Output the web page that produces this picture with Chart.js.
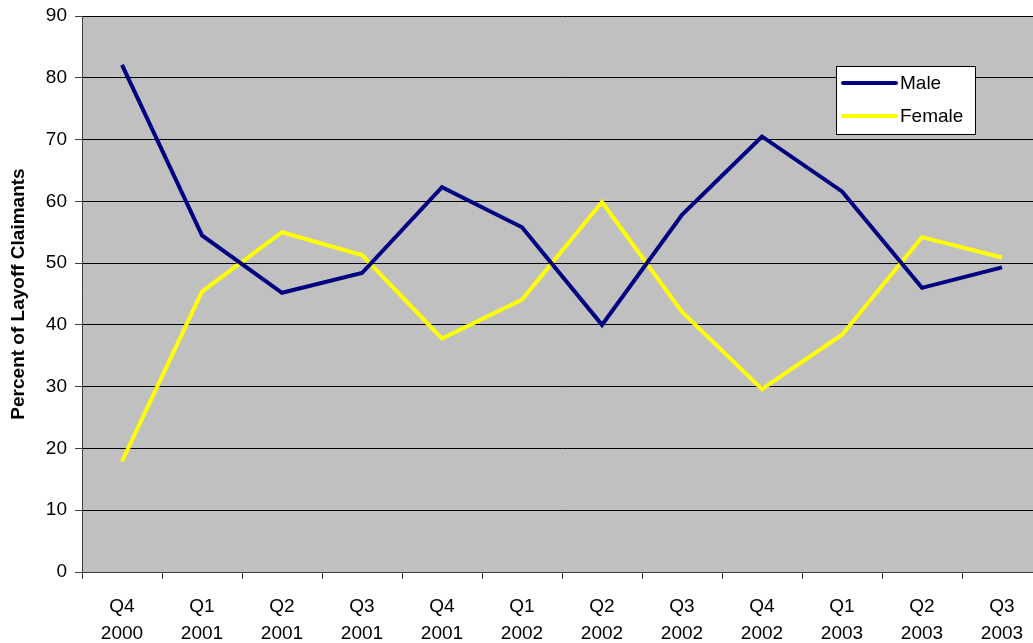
<!DOCTYPE html>
<html>
<head>
<meta charset="utf-8">
<script src="https://cdn.jsdelivr.net/npm/chart.js@4/dist/chart.umd.min.js"></script>
<style>
  html, body { margin: 0; padding: 0; background: #fff; overflow: hidden; }
  #wrap { width: 1042px; height: 643px; }
</style>
</head>
<body>
<div id="wrap"><canvas id="layoffChart"></canvas></div>
<script>
// quarters (two-line labels)
const quarters = [
    ['Q4', '2000'], ['Q1', '2001'], ['Q2', '2001'], ['Q3', '2001'],
    ['Q4', '2001'], ['Q1', '2002'], ['Q2', '2002'], ['Q3', '2002'],
    ['Q4', '2002'], ['Q1', '2003'], ['Q2', '2003'], ['Q3', '2003']
];
const maleValues = [82.1, 54.5, 45.2, 48.4, 62.3, 55.8, 40.0, 57.8, 70.5, 61.6, 46.0, 49.3];
const femaleValues = [17.9, 45.4, 55.0, 51.3, 37.8, 44.1, 59.9, 42.1, 29.6, 38.4, 54.2, 50.9];
const yTicks = [0, 10, 20, 30, 40, 50, 60, 70, 80, 90];

const FONT = 'Arial, "Liberation Sans", sans-serif';

// gray plot background
const plotBgPlugin = {
    id: 'plotBgPlugin',
    beforeDraw: (chart) => {
        const ctx = chart.ctx;
        const { left, top, width, height } = chart.chartArea;
        ctx.save();
        ctx.fillStyle = '#C0C0C0';
        ctx.fillRect(left, top, width, height);
        ctx.restore();
    }
};

// boxed legend inside the plot, top right
const boxLegendPlugin = {
    id: 'boxLegendPlugin',
    afterDraw: (chart) => {
        const ctx = chart.ctx;
        const bx = 836, by = 66, bw = 139, bh = 68;
        ctx.save();
        ctx.fillStyle = '#ffffff';
        ctx.fillRect(bx, by, bw, bh);
        ctx.strokeStyle = '#000000';
        ctx.lineWidth = 1;
        ctx.strokeRect(bx + 0.5, by + 0.5, bw, bh);
        ctx.font = '19px ' + FONT;
        ctx.textAlign = 'left';
        ctx.textBaseline = 'middle';
        chart.data.datasets.forEach((ds, i) => {
            const y = by + 17 + i * 33;
            ctx.strokeStyle = ds.borderColor;
            ctx.lineWidth = 4;
            ctx.lineCap = 'round';
            ctx.beginPath();
            ctx.moveTo(bx + 7, y);
            ctx.lineTo(bx + 60, y);
            ctx.stroke();
            ctx.fillStyle = '#000000';
            ctx.fillText(ds.label, bx + 64, y + 1);
        });
        ctx.restore();
    }
};

const ctx = document.getElementById('layoffChart').getContext('2d');
const layoffChart = new Chart(ctx, {
    type: 'line',
    data: {
        labels: quarters,
        datasets: [{
            label: 'Male',
            data: maleValues,
            borderColor: '#000080',
            borderWidth: 4,
            pointRadius: 0,
            tension: 0,
            fill: false
        },
        {
            label: 'Female',
            data: femaleValues,
            borderColor: '#FFFF00',
            borderWidth: 4,
            pointRadius: 0,
            tension: 0,
            fill: false
        }]
    },
    options: {
        responsive: true,
        maintainAspectRatio: false,
        animation: false,
        layout: {
            padding: { top: 16, right: 0, bottom: 0, left: 0 }
        },
        scales: {
            x: {
                offset: true,
                afterFit: (scale) => { scale.height = 71; },
                grid: {
                    offset: true,
                    drawOnChartArea: false,
                    drawTicks: true,
                    tickLength: 7,
                    color: '#404040'
                },
                border: { color: '#404040', width: 1 },
                ticks: {
                    color: '#000000',
                    font: { family: FONT, size: 19, lineHeight: 1.42 },
                    padding: 14,
                    maxRotation: 0,
                    autoSkip: false
                }
            },
            y: {
                min: 0,
                max: 90,
                afterFit: (scale) => {
                    scale.width = 82;
                    scale.paddingTop = 0;
                    scale.paddingBottom = 0;
                },
                afterBuildTicks: (scale) => {
                    scale.ticks = yTicks.map(v => ({ value: v }));
                },
                title: {
                    display: true,
                    text: 'Percent of Layoff Claimants',
                    color: '#000000',
                    font: { family: FONT, size: 19, weight: 'bold' },
                    padding: { top: 7, bottom: 4 }
                },
                grid: {
                    color: '#000000',
                    lineWidth: 1,
                    tickLength: 7,
                    tickColor: '#404040'
                },
                border: { color: '#404040', width: 1 },
                ticks: {
                    color: '#000000',
                    font: { family: FONT, size: 19 },
                    padding: 8
                }
            }
        },
        plugins: {
            legend: { display: false },
            tooltip: { enabled: false }
        }
    },
    plugins: [plotBgPlugin, boxLegendPlugin]
});
</script>
</body>
</html>
